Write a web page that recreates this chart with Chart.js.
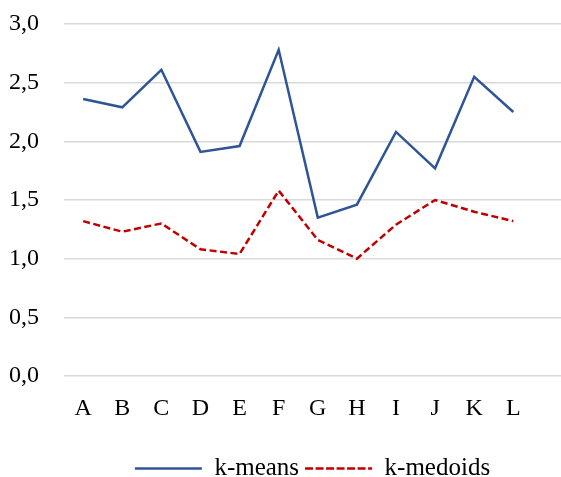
<!DOCTYPE html>
<html>
<head>
<meta charset="utf-8">
<script src="https://cdn.jsdelivr.net/npm/chart.js@4"></script>
<style>
    html, body { margin: 0; padding: 0; background: #ffffff; }
    #wrap { width: 561px; height: 477px; position: relative; }
</style>
</head>
<body>
<div id="wrap"><canvas id="lineChart"></canvas></div>
<script>
const categories = ['A', 'B', 'C', 'D', 'E', 'F', 'G', 'H', 'I', 'J', 'K', 'L'];
const kMeans = [2.36, 2.29, 2.61, 1.91, 1.96, 2.78, 1.35, 1.46, 2.08, 1.77, 2.55, 2.25];
const kMedoids = [1.32, 1.23, 1.30, 1.08, 1.04, 1.58, 1.16, 1.00, 1.29, 1.50, 1.40, 1.32];
const yTicks = [0, 0.5, 1, 1.5, 2, 2.5, 3];

const fontFamily = '"Liberation Serif", "DejaVu Serif", serif';

// pair each value with its category index
function toPoints(values) {
    return values.map((v, i) => ({ x: i, y: v }));
}

// center the legend under the plot area instead of the whole canvas
const legendUnderPlot = {
    id: 'legendUnderPlot',
    afterLayout(chart) {
        if (chart.legend) {
            chart.legend.left = chart.chartArea.left;
        }
    }
};

document.addEventListener('DOMContentLoaded', function () {
    const ctx = document.getElementById('lineChart').getContext('2d');

    window.lineChart = new Chart(ctx, {
        type: 'line',
        data: {
            datasets: [{
                label: 'k-means',
                data: toPoints(kMeans),
                borderColor: '#2F5597',
                backgroundColor: 'rgba(0,0,0,0)',
                borderWidth: 2.5,
                pointRadius: 0,
                tension: 0
            },
            {
                label: 'k-medoids',
                data: toPoints(kMedoids),
                borderColor: '#C00000',
                backgroundColor: 'rgba(0,0,0,0)',
                borderWidth: 2.5,
                borderDash: [7, 3.5],
                pointRadius: 0,
                tension: 0
            }]
        },
        plugins: [legendUnderPlot],
        options: {
            responsive: true,
            maintainAspectRatio: false,
            animation: false,
            layout: {
                padding: { top: 0, right: 0, left: 9, bottom: -14 }
            },
            plugins: {
                tooltip: { enabled: false },
                legend: {
                    position: 'bottom',
                    labels: {
                        boxWidth: 67,
                        boxHeight: 0,
                        padding: 6,
                        color: '#000000',
                        font: { family: fontFamily, size: 25 }
                    }
                }
            },
            scales: {
                x: {
                    type: 'linear',
                    min: -0.49,
                    max: 12.22,
                    grid: { display: false },
                    border: { display: false },
                    afterFit: scale => { scale.height = 74; },
                    afterBuildTicks: scale => {
                        scale.ticks = categories.map((c, i) => ({ value: i }));
                    },
                    ticks: {
                        autoSkip: false,
                        maxRotation: 0,
                        padding: 10,
                        color: '#000000',
                        font: { family: fontFamily, size: 24 },
                        callback: value => categories[value] || ''
                    }
                },
                y: {
                    min: 0,
                    max: 3,
                    afterFit: scale => { scale.width = 55; },
                    afterBuildTicks: scale => {
                        scale.ticks = yTicks.map(v => ({ value: v }));
                    },
                    grid: {
                        color: '#D9D9D9',
                        lineWidth: 1.5,
                        drawTicks: false
                    },
                    border: { display: false },
                    ticks: {
                        padding: 9.6,
                        crossAlign: 'far',
                        color: '#000000',
                        font: { family: fontFamily, size: 24 },
                        callback: value => value.toFixed(1).replace('.', ',')
                    }
                }
            }
        }
    });
});
</script>
</body>
</html>
